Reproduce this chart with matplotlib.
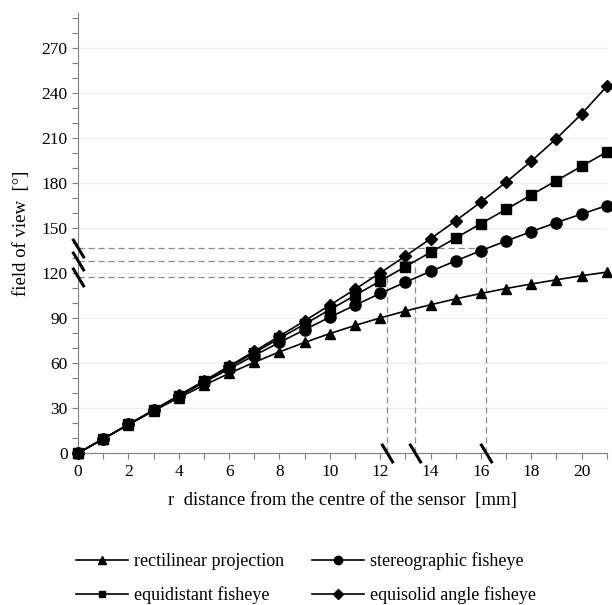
import numpy as np
import matplotlib
matplotlib.use('Agg')
import matplotlib.pyplot as plt
from matplotlib.path import Path
from matplotlib.ticker import MultipleLocator

# 1) Data
r_mm = [0, 1, 2, 3, 4, 5, 6, 7, 8, 9, 10, 11, 12, 13, 14, 15, 16, 17, 18, 19, 20, 21]
rectilinear = [0, 9.5, 18.9, 28.1, 36.9, 45.2, 53.1, 60.5, 67.4, 73.7, 79.6, 85.0,
               90.0, 94.6, 98.8, 102.7, 106.3, 109.6, 112.6, 115.4, 118.1, 120.5]
stereographic = [0, 9.5, 19.1, 28.5, 37.8, 47.1, 56.1, 65.0, 73.7, 82.2, 90.5, 98.5,
                 106.3, 113.8, 121.0, 128.0, 134.8, 141.2, 147.5, 153.5, 159.2, 164.8]
equidistant = [0, 9.5, 19.1, 28.6, 38.2, 47.7, 57.3, 66.8, 76.4, 85.9, 95.5, 105.0,
               114.6, 124.1, 133.7, 143.2, 152.8, 162.3, 171.9, 181.4, 191.0, 200.5]
equisolid = [0, 9.5, 19.1, 28.7, 38.4, 48.1, 57.9, 67.8, 77.9, 88.1, 98.5, 109.1,
             120.0, 131.2, 142.7, 154.7, 167.2, 180.4, 194.4, 209.4, 225.8, 244.2]

# reference readings (dashed guides)
guide_r = [12.27, 13.37, 16.2]
guide_fov = [117, 128, 136.5]

plt.rcParams['font.family'] = ['Liberation Serif', 'DejaVu Serif']

fig = plt.figure(figsize=(6.12, 6.05), dpi=100)
ax = fig.add_axes([0.1275, 0.251, 0.864, 0.7275])

# 2) Guides
for gx, gy in zip(guide_r, guide_fov):
    ax.plot([0, gx], [gy, gy], ls=(0, (5, 3)), color='#8c8c8c', lw=0.9, zorder=1)
    ax.plot([gx, gx], [0, gy], ls=(0, (5, 3)), color='#8c8c8c', lw=0.9, zorder=1)

# 3) Series
style = dict(color='black', lw=1.2, clip_on=False, zorder=3)
h_rect, = ax.plot(r_mm, rectilinear, marker='^', ms=7, label='rectilinear projection', **style)
h_ster, = ax.plot(r_mm, stereographic, marker='o', ms=8, label='stereographic fisheye', **style)
h_eqd, = ax.plot(r_mm, equidistant, marker='s', ms=6.5, label='equidistant fisheye', **style)
h_eqs, = ax.plot(r_mm, equisolid, marker='D', ms=6.5, label='equisolid angle fisheye', **style)

# 4) Break marks on the axes
slash = Path([(-0.6, 1), (0.6, -1)], [Path.MOVETO, Path.LINETO])
ax.plot([0] * len(guide_fov), guide_fov, ls='none', marker=slash, ms=14,
        mew=2.2, mec='black', clip_on=False, zorder=4)
ax.plot(guide_r, [0] * len(guide_r), ls='none', marker=slash, ms=14,
        mew=2.2, mec='black', clip_on=False, zorder=4)

# 5) Axes
ax.set_xlim(0, 21)
ax.set_ylim(0, 293)
ax.xaxis.set_major_locator(MultipleLocator(2))
ax.xaxis.set_minor_locator(MultipleLocator(1))
ax.yaxis.set_major_locator(MultipleLocator(30))
ax.yaxis.set_minor_locator(MultipleLocator(10))
ax.tick_params(which='both', direction='out', length=4, width=0.8,
               color='#808080', labelsize=12.5)
ax.grid(axis='y', which='major', color='#ececec', lw=0.8)
ax.set_axisbelow(True)
for s in ['top', 'right']:
    ax.spines[s].set_visible(False)
for s in ['left', 'bottom']:
    ax.spines[s].set_color('#808080')
ax.set_xlabel('r  distance from the centre of the sensor  [mm]', fontsize=13.5, labelpad=9)
ax.set_ylabel('field of view  [°]', fontsize=13.5, labelpad=8)

# 6) Legend (row-wise order: matplotlib fills columns first)
order = [h_rect, h_eqd, h_ster, h_eqs]
fig.legend(order, [h.get_label() for h in order],
           loc='upper center', bbox_to_anchor=(0.5, 0.1085), ncol=2, frameon=False,
           fontsize=13, handlelength=2.9, columnspacing=1.5, labelspacing=0.9,
           handletextpad=0.35, markerscale=0.75, borderpad=0.2)

fig.savefig('out.png', dpi=100)
